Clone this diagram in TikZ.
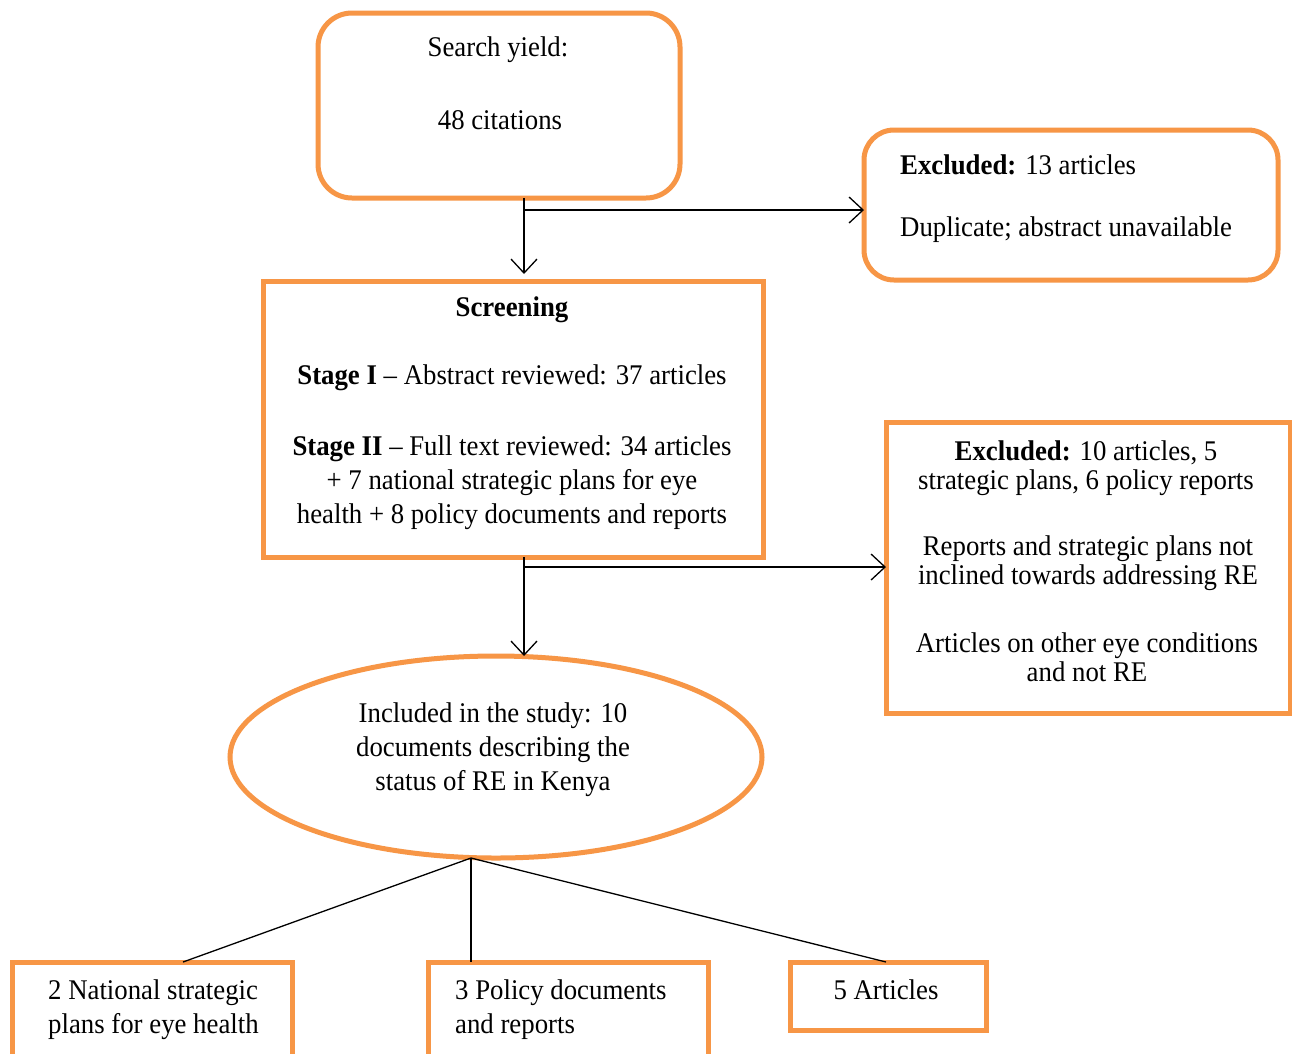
\documentclass[tikz,border=0pt]{standalone}
\usepackage{fontspec}
\setmainfont{Liberation Serif}[FakeStretch=0.94]
\usetikzlibrary{arrows.meta,shapes.geometric}
\definecolor{boxorange}{HTML}{F79646}
\begin{document}
\begin{tikzpicture}[x=1pt,y=-1pt,
  box/.style={draw=boxorange,line width=5pt,fill=white,inner sep=0pt,outer sep=0pt,anchor=north west},
  rbox/.style={box,rounded corners=34pt},
  txt/.style={inner sep=0pt,font=\fontsize{28.5}{34}\selectfont,align=center},
  ntxt/.style={txt,font=\fontsize{28.5}{29.5}\selectfont},
  link/.style={draw=black,line width=1.3pt},
  arr/.style={link,-{Straight Barb[length=14pt,width=26pt,line width=1.3pt]}}]
\useasboundingbox[fill=white] (0,0) rectangle (1292,1053);
% boxes
\node[rbox,minimum width=362pt,minimum height=185pt] (search) at (318,13) {};
\node[rbox,rounded corners=30pt,minimum width=414pt,minimum height=150pt] (excl1) at (864,130) {};
\node[box,minimum width=500pt,minimum height=276pt] (screen) at (263,281) {};
\node[box,minimum width=404pt,minimum height=291pt] (excl2) at (886,422) {};
\node[draw=boxorange,line width=5pt,fill=white,ellipse,inner sep=0pt,outer sep=0pt,minimum width=532pt,minimum height=202pt] (incl) at (496,757) {};
\node[box,minimum width=280pt,minimum height=120pt] (out1) at (12,962) {};
\node[box,minimum width=280pt,minimum height=120pt] (out2) at (428,962) {};
\node[box,minimum width=196pt,minimum height=68pt] (out3) at (790,962) {};
% connectors
\coordinate (b1) at (524,210);
\coordinate (b2) at (524,567);
\draw[link] (search.south -| b1) -- (b1);
\draw[arr,shorten >=7pt] (b1) -- (screen.north -| b1);
\draw[arr] (b1) -- (excl1.west |- b1);
\draw[link] (screen.south -| b2) -- (b2);
\draw[arr] (b2) -- (incl.north -| b2);
\draw[arr] (b2) -- (excl2.west |- b2);
\coordinate (e) at ([xshift=-25pt]incl.south);
\draw[link] (e) -- ([xshift=31pt]out1.north);
\draw[link] (e) -- ([xshift=-97pt]out2.north);
\draw[link] (e) -- ([xshift=-2pt]out3.north);
% texts
\node[txt] (t1) at (498,50) {Search yield:};
\node[txt] (t2) at (500,120) {48 citations};
\node[txt,anchor=west] (t3) at (900,165) {\textbf{Excluded:} 13 articles};
\node[txt,anchor=west] (t4) at (900,230) {Duplicate; abstract unavailable};
\node[txt] (t5) at (512,310) {\textbf{Screening}};
\node[txt] (t6) at (512,378) {\textbf{Stage I} – Abstract reviewed: 37 articles};
\node[txt] (t7) at (512,483) {\textbf{Stage II} – Full text reviewed: 34 articles\\+ 7 national strategic plans for eye\\health + 8 policy documents and reports};
\node[ntxt] (t8) at (1086,468) {\textbf{Excluded:} 10 articles, 5\\strategic plans, 6 policy reports};
\node[ntxt] (t9) at (1088,563) {Reports and strategic plans not\\inclined towards addressing RE};
\node[ntxt] (t10) at (1087,657) {Articles on other eye conditions\\and not RE};
\node[txt] (t11) at (493,750) {Included in the study: 10\\documents describing the\\status of RE in Kenya};
\node[txt,align=left,anchor=west] (t12) at (48,1010) {2 National strategic\\plans for eye health};
\node[txt,align=left,anchor=west] (t13) at (455,1010) {3 Policy documents\\and reports};
\node[txt] (t14) at (886,990) {5 Articles};
\end{tikzpicture}
\end{document}
